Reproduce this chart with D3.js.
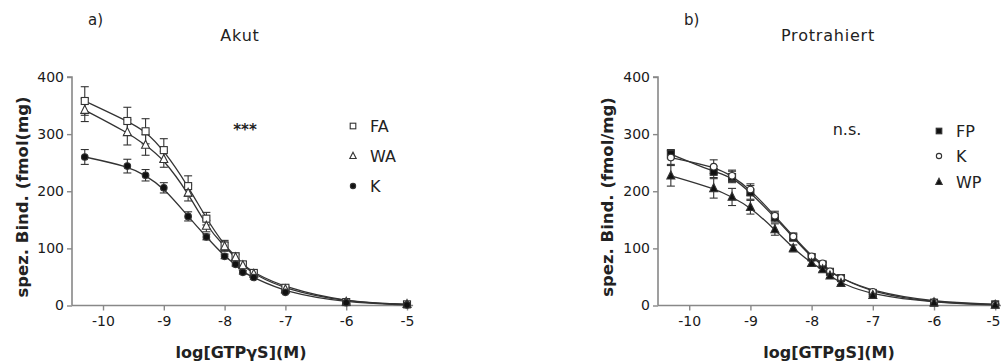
<!DOCTYPE html>
<html><head><meta charset="utf-8">
<script src="https://cdn.jsdelivr.net/npm/d3@7"></script>
<style>body{margin:0;background:#fff}svg{display:block}text{font-family:"DejaVu Sans",sans-serif;fill:#222}</style>
</head><body><svg id="c" width="1001" height="364"></svg>
<script>
// log[GTPγS] concentrations (M)
const logConc = [-10.3, -9.6, -9.3, -9, -8.6, -8.3, -8, -7.82, -7.7, -7.52, -7, -6, -5];
const xTicks = [-10, -9, -8, -7, -6, -5];
const yTicks = [0, 100, 200, 300, 400];

// panel a) Akut
const faVals = [358, 323, 305, 272, 209, 152, 105, 86, 72, 57, 31, 6, 2];
const faErr  = [25, 24, 22, 20, 18, 11, 9, 6, 5, 4, 3, 2, 1];
const waVals = [342, 303, 281, 256, 197, 139, 103, 84, 70, 55, 28, 6, 2];
const waErr  = [20, 22, 18, 14, 14, 10, 8, 5, 4, 3, 2, 2, 1];
const kaVals = [260, 244, 228, 206, 156, 120, 86, 72, 58, 49, 23, 5, 1];
const kaErr  = [13, 12, 10, 9, 8, 5, 4, 3, 3, 3, 2, 2, 1];

// panel b) Protrahiert
const fpVals = [265, 234, 225, 198, 154, 119, 84, 71, 59, 48, 22, 5, 2];
const fpErr  = [8, 10, 10, 12, 8, 6, 5, 4, 3, 3, 2, 2, 1];
const kpVals = [259, 243, 227, 203, 157, 121, 86, 74, 60, 48, 24, 6, 2];
const kpErr  = [12, 12, 10, 10, 8, 6, 5, 4, 3, 3, 2, 2, 1];
const wpVals = [227, 205, 190, 172, 133, 100, 74, 63, 52, 39, 18, 5, 1];
const wpErr  = [18, 17, 15, 12, 10, 6, 5, 4, 3, 3, 2, 2, 1];

const svg = d3.select("#c");

function panel(o) {
  const g = svg.append("g");
  const x = d3.scaleLinear().domain([-10.51, -4.9]).range([o.x0, o.x0 + 5.61 * o.dec]);
  const y = d3.scaleLinear().domain([0, 400]).range([305.5, 77]);

  const ya = g.append("g").attr("transform", `translate(${o.x0},0)`)
    .call(d3.axisLeft(y).tickValues(yTicks).tickSize(5).tickPadding(3));
  const xa = g.append("g").attr("transform", `translate(0,305.5)`)
    .call(d3.axisBottom(x).tickValues(xTicks).tickSize(5).tickPadding(6).tickFormat(d => String(d)));
  [ya, xa].forEach(a => {
    a.select(".domain").attr("stroke", "#888").attr("stroke-width", 1.6);
    a.selectAll(".tick line").attr("stroke", "#888").attr("stroke-width", 1.4);
    a.selectAll(".tick text").style("font-size", "14px").style("fill", "#1a1a1a")
      .style("font-family", '"DejaVu Sans",sans-serif');
  });
  // keep the last tick label inside the page
  xa.selectAll(".tick text").each(function(d) {
    const tx = x(d);
    const w = this.getComputedTextLength();
    if (tx + w / 2 > 1000) d3.select(this).attr("dx", (1000 - (tx + w / 2)));
  });
  ya.select(".domain").attr("d", `M-5,${y(400)}H0V${y(0)}`);
  xa.select(".domain").attr("d", `M${o.x0},0H${x(-4.9)}`);

  const line = d3.line().x((d, i) => x(logConc[i])).y(d => y(d)).curve(d3.curveBasis);

  o.series.forEach(s => {
    g.append("path").attr("d", line(s.vals)).attr("fill", "none")
      .attr("stroke", "#333").attr("stroke-width", 1.3);
  });
  o.series.forEach(s => {
    const eg = g.append("g").attr("stroke", "#333").attr("stroke-width", 1.1);
    s.vals.forEach((v, i) => {
      const cx = x(logConc[i]), t = y(v + s.err[i]), b = y(v - s.err[i]);
      eg.append("line").attr("x1", cx).attr("x2", cx).attr("y1", t).attr("y2", b);
      eg.append("line").attr("x1", cx - 4).attr("x2", cx + 4).attr("y1", t).attr("y2", t);
      eg.append("line").attr("x1", cx - 4).attr("x2", cx + 4).attr("y1", b).attr("y2", b);
    });
  });
  o.series.forEach(s => {
    s.vals.forEach((v, i) => marker(g, s.m, x(logConc[i]), y(v), 1));
  });

  // legend
  o.series.forEach((s, i) => {
    marker(g, s.m, o.lx, o.ly[i], 0.8);
    g.append("text").attr("x", o.lx + 17).attr("y", o.ly[i] + 6).style("font-size", "16px").text(s.name);
  });
  g.append("text").attr("x", o.sigX).attr("y", o.sigY).attr("text-anchor", "middle")
    .style("font-size", o.sigSize).style("font-weight", o.sigW).text(o.sig);
  g.append("text").attr("x", o.labX).attr("y", 25).style("font-size", "15px").text(o.lab);
  g.append("text").attr("x", o.titleX).attr("y", 41).attr("text-anchor", "middle")
    .style("font-size", "16px").style("letter-spacing", "0.8px").text(o.title);
  g.append("text").attr("x", o.xtX).attr("y", 358).attr("text-anchor", "middle")
    .style("font-size", "16px").style("font-weight", "bold").text(o.xt);
  g.append("text").attr("transform", `translate(${o.ytX},${o.ytY}) rotate(-90)`).attr("text-anchor", "middle")
    .style("font-size", "16.5px").style("font-weight", "bold").text(o.yt);
}

function marker(g, m, cx, cy, k) {
  const s = 7 * k;
  if (m === "sqOpen" || m === "sqFill") {
    g.append("rect").attr("x", cx - s / 2).attr("y", cy - s / 2).attr("width", s).attr("height", s)
      .attr("fill", m === "sqFill" ? "#111" : "#fff").attr("stroke", "#333").attr("stroke-width", 1.1);
  } else if (m === "triOpen" || m === "triFill") {
    const h = 8 * k;
    g.append("path").attr("d", `M${cx},${cy - h * 0.6}L${cx + h / 2},${cy + h * 0.4}L${cx - h / 2},${cy + h * 0.4}Z`)
      .attr("fill", m === "triFill" ? "#111" : "#fff").attr("stroke", "#333").attr("stroke-width", 1.1);
  } else {
    g.append("circle").attr("cx", cx).attr("cy", cy).attr("r", 3.3 * k)
      .attr("fill", m === "cirFill" ? "#111" : "#fff").attr("stroke", "#333").attr("stroke-width", 1.1);
  }
}

panel({
  x0: 72, dec: 60.8,
  series: [
    {name: "FA", vals: faVals, err: faErr, m: "sqOpen"},
    {name: "WA", vals: waVals, err: waErr, m: "triOpen"},
    {name: "K", vals: kaVals, err: kaErr, m: "cirFill"}
  ],
  lx: 353, ly: [126, 156, 186],
  sig: "***", sigX: 245, sigY: 135, sigSize: "15px", sigW: "bold",
  lab: "a)", labX: 88, title: "Akut", titleX: 240,
  xt: "log[GTPγS](M)", xtX: 241, yt: "spez. Bind. (fmol(mg)", ytX: 28, ytY: 197
});
panel({
  x0: 658, dec: 61.2,
  series: [
    {name: "FP", vals: fpVals, err: fpErr, m: "sqFill"},
    {name: "K", vals: kpVals, err: kpErr, m: "cirOpen"},
    {name: "WP", vals: wpVals, err: wpErr, m: "triFill"}
  ],
  lx: 939, ly: [131, 156, 182],
  sig: "n.s.", sigX: 847, sigY: 135, sigSize: "16px", sigW: "normal",
  lab: "b)", labX: 684, title: "Protrahiert", titleX: 828,
  xt: "log[GTPgS](M)", xtX: 829, yt: "spez. Bind. (fmol/mg)", ytX: 613, ytY: 197
});
</script></body></html>
